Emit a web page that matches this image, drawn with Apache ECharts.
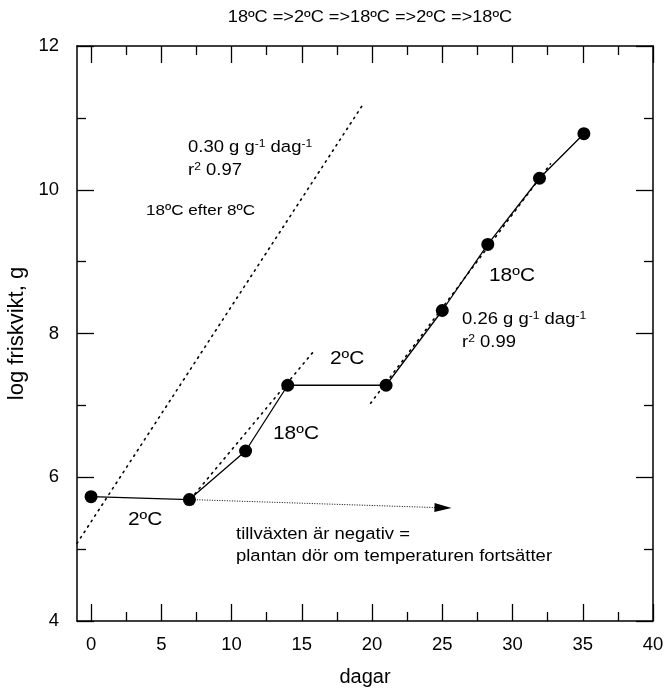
<!DOCTYPE html>
<html>
<head>
<meta charset="utf-8">
<script src="https://cdn.jsdelivr.net/npm/echarts@6/dist/echarts.min.js"></script>
<style>
  html, body { margin: 0; padding: 0; background: #fff; }
  #chart { width: 666px; height: 693px; }
</style>
</head>
<body>
<div id="chart"></div>
<script>
// Measured fresh weight (log scale) over days of alternating temperature
const days = [0, 7, 11, 14, 21, 25, 28.24, 31.92, 35.08];
const logWeight = [5.73, 5.69, 6.365, 7.28, 7.28, 8.32, 9.24, 10.16, 10.78];

// Fitted growth lines (end points)
const fitAfter8X = [-1, 19.4];     // 18ºC after 8ºC, slope 0.30
const fitAfter8Y = [5.08, 11.2];
const fitFirst18X = [7.1, 15.8];   // first 18ºC period
const fitFirst18Y = [5.70, 7.74];
const fitSecond18X = [19.9, 32.7]; // second 18ºC period, slope 0.26
const fitSecond18Y = [7.03, 10.36];

// Continued 2ºC trend (arrow)
const trendX = [7, 25.05];
const trendY = [5.69, 5.575];

// Axis ticks
const xMajorTicks = [0, 5, 10, 15, 20, 25, 30, 35, 40];
const xMinorTicks = [2.5, 7.5, 12.5, 17.5, 22.5, 27.5, 32.5, 37.5];
const yTickLabels = [4, 6, 8, 10, 12];

const pairs = (xs, ys) => xs.map((x, i) => [x, ys[i]]);

const FONT = '"Liberation Sans", Arial, sans-serif';
const AXIS_COLOR = '#000';

function xAxisDef(position, ticks, length, showLine, showLabels) {
  return {
    type: 'value', position, min: -1, max: 40, gridIndex: 0,
    axisLine: { show: showLine, onZero: false, lineStyle: { color: AXIS_COLOR, width: 1.5 } },
    axisTick: { show: true, inside: true, length, customValues: ticks, lineStyle: { color: AXIS_COLOR, width: 1.3 } },
    axisLabel: showLabels
      ? { show: true, customValues: xMajorTicks, color: '#000', fontSize: 18.5, fontFamily: FONT, margin: 14 }
      : { show: false },
    splitLine: { show: false }
  };
}

function yAxisDef(position, showLabels) {
  return {
    type: 'value', position, min: 4, max: 12, interval: 2, gridIndex: 0,
    axisLine: { show: true, onZero: false, lineStyle: { color: AXIS_COLOR, width: 1.5 } },
    axisTick: { show: true, inside: true, length: 17, lineStyle: { color: AXIS_COLOR, width: 1.3 } },
    minorTick: { show: true, splitNumber: 2, length: 9, lineStyle: { color: AXIS_COLOR, width: 1.3 } },
    axisLabel: showLabels
      ? { show: true, color: '#000', fontSize: 18.5, fontFamily: FONT, margin: 18,
          customValues: yTickLabels }
      : { show: false },
    splitLine: { show: false },
    minorSplitLine: { show: false }
  };
}

const bottomMajor = xAxisDef('bottom', xMajorTicks, 17, true, true);
bottomMajor.name = 'dagar';
bottomMajor.nameLocation = 'middle';
bottomMajor.nameGap = 46;
bottomMajor.nameTextStyle = { color: '#000', fontSize: 20, fontFamily: FONT };

const leftAxis = yAxisDef('left', true);
leftAxis.name = 'log friskvikt, g';
leftAxis.nameLocation = 'middle';
leftAxis.nameGap = 44;
leftAxis.nameTextStyle = { color: '#000', fontSize: 22, fontFamily: FONT };

const dotted = { color: '#000', width: 1.6, type: [1.5, 5], cap: 'round' };

const chart = echarts.init(document.getElementById('chart'), null, { renderer: 'canvas' });

// Slightly widened annotation text
function annotation(text, x, y, size, extra) {
  return Object.assign({
    type: 'text', x, y, scaleX: 1.1, silent: true,
    style: {
      text, fill: '#000', fontSize: size, fontFamily: FONT,
      align: 'left', verticalAlign: 'middle',
      rich: { s: { fontSize: Math.round(size * 0.65), verticalAlign: 'top', lineHeight: 8, fontFamily: FONT } }
    }
  }, extra || {});
}

chart.setOption({
  backgroundColor: '#fff',
  animation: false,
  grid: { left: 77, right: 13, top: 46, bottom: 72, containLabel: false, outerBoundsMode: 'none' },
  xAxis: [
    bottomMajor,
    xAxisDef('bottom', xMinorTicks, 9, false, false),
    xAxisDef('top', xMajorTicks, 17, true, false),
    xAxisDef('top', xMinorTicks, 9, false, false)
  ],
  yAxis: [leftAxis, yAxisDef('right', false)],
  series: [
    {
      type: 'line', name: 'fit 18ºC efter 8ºC', data: pairs(fitAfter8X, fitAfter8Y),
      symbol: 'none', lineStyle: dotted, z: 2
    },
    {
      type: 'line', name: 'fit 18ºC (1)', data: pairs(fitFirst18X, fitFirst18Y),
      symbol: 'none', lineStyle: dotted, z: 2
    },
    {
      type: 'line', name: 'fit 18ºC (2)', data: pairs(fitSecond18X, fitSecond18Y),
      symbol: 'none', lineStyle: dotted, z: 2
    },
    {
      type: 'line', name: 'trend 2ºC', data: [], z: 2,
      markLine: {
        silent: true, animation: false,
        symbol: ['none', 'triangle'], symbolSize: [9, 17],
        label: { show: false },
        lineStyle: { color: '#000', width: 1, type: [1, 1.5] },
        emphasis: { disabled: true },
        data: [[{ coord: [trendX[0], trendY[0]] }, { coord: [trendX[1], trendY[1]] }]]
      }
    },
    {
      type: 'line', name: 'friskvikt', data: pairs(days, logWeight),
      symbol: 'circle', symbolSize: 13,
      itemStyle: { color: '#000' },
      lineStyle: { color: '#000', width: 1.3 }, z: 3
    }
  ],
  graphic: [
    {
      type: 'text', x: 370, y: 17, scaleX: 1.1, silent: true,
      style: { text: '18ºC =>2ºC =>18ºC =>2ºC =>18ºC', fill: '#000', fontSize: 16.5,
               fontFamily: FONT, align: 'center', verticalAlign: 'middle' }
    },
    annotation('0.30 g g{s|-1} dag{s|-1}', 188, 147, 16.8),
    annotation('r{s|2} 0.97', 188, 170, 16.8),
    annotation('18ºC efter 8ºC', 146, 211, 15.5),
    annotation('18ºC', 273, 434, 19),
    annotation('2ºC', 128, 520, 19),
    annotation('2ºC', 330, 359, 19),
    annotation('18ºC', 489, 276, 19),
    annotation('0.26 g g{s|-1} dag{s|-1}', 462, 319, 16.8),
    annotation('r{s|2} 0.99', 462, 342, 16.8),
    annotation('tillväxten är negativ =', 236, 534, 16.8),
    annotation('plantan dör om temperaturen fortsätter', 236, 556, 16.8)
  ]
});
</script>
</body>
</html>
